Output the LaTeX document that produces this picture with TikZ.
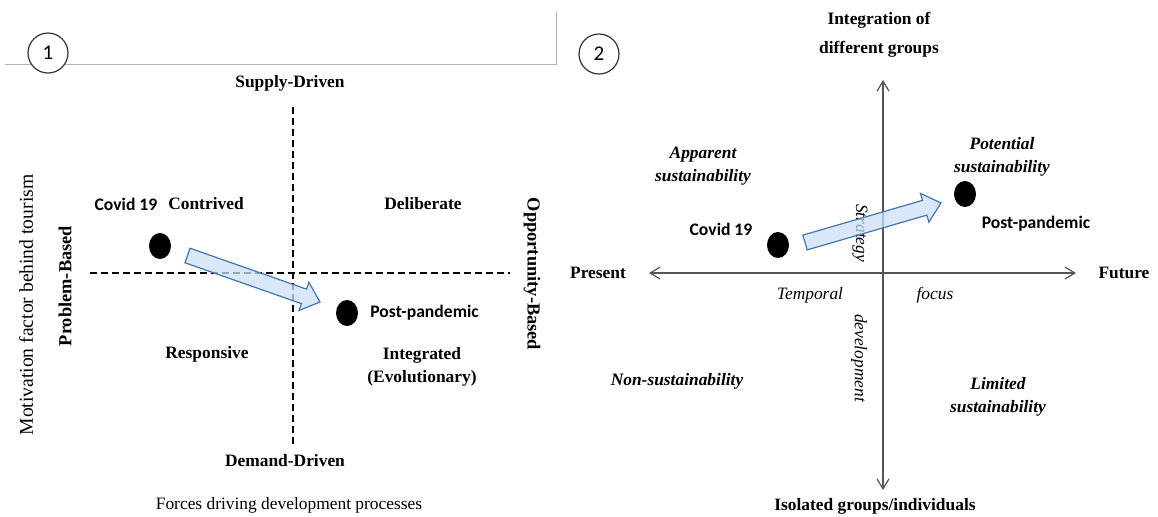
\documentclass[tikz,border=0pt]{standalone}
\usepackage{fontspec}
\setmainfont{Liberation Serif}
\newfontfamily\calfont{Carlito}
\usetikzlibrary{calc,arrows.meta,shapes.geometric}
\definecolor{arrfill}{RGB}{204,224,245}
\definecolor{arrdraw}{RGB}{70,115,175}
\definecolor{axisgray}{RGB}{85,85,85}
\newcommand\blockarr[2]{%
  \coordinate (#1h) at ($(#2)!8.5pt!(#1)$);
  \draw[blockarrow] ($(#1)!3.85pt!90:(#2)$) -- ($(#1h)!3.85pt!90:(#2)$) -- ($(#1h)!7.5pt!90:(#2)$) -- (#2)
    -- ($(#1h)!7.5pt!-90:(#2)$) -- ($(#1h)!3.85pt!-90:(#2)$) -- ($(#1)!3.85pt!-90:(#2)$) -- cycle;}
\begin{document}
\begin{tikzpicture}[x=0.5pt,y=-0.5pt,
  lbl/.style={font=\fontsize{8.7}{11.5}\selectfont\bfseries, inner sep=0pt, align=center},
  bilbl/.style={font=\fontsize{8.7}{11.5}\selectfont\bfseries\itshape, inner sep=0pt, align=center},
  itlbl/.style={font=\fontsize{8.7}{11.5}\selectfont\itshape, inner sep=0pt, align=center},
  rmlbl/.style={font=\fontsize{8.7}{11.5}\selectfont, inner sep=0pt, align=center},
  sidelbl/.style={font=\fontsize{9.2}{11}\selectfont\bfseries, inner sep=0pt},
  sanslbl/.style={font=\calfont\fontsize{8.8}{11}\selectfont\bfseries, inner sep=0pt},
  numcirc/.style={circle, draw=black!80, line width=0.6pt, fill=white, minimum size=20pt, inner sep=0pt,
    font=\calfont\fontsize{10.5}{12}\selectfont},
  dot/.style={ellipse, fill=black, minimum width=11pt, minimum height=13pt, inner sep=0pt},
  dashline/.style={line width=0.95pt, dash pattern=on 3.5pt off 2pt},
  axisline/.style={draw=axisgray, line width=0.6pt, {Straight Barb[length=5pt,width=6pt]}-{Straight Barb[length=5pt,width=6pt]}},
  blockarrow/.style={draw=arrdraw, line width=0.6pt, fill=arrfill, fill opacity=0.75, line join=miter}
]
\useasboundingbox (0,0) rectangle (1158,516);

% frame line
\coordinate (fl) at (5,64);
\coordinate (fc) at (556,64);
\coordinate (ft) at (556,12);
\draw[black!30, line width=0.5pt] (fl) -- (fc) -- (ft);

% ---------- Panel 1 ----------
\node[numcirc] (n1) at (48,53) {1};
\coordinate (vt) at (293,107);
\coordinate (vb) at (293,446);
\coordinate (hl) at (90,273);
\coordinate (hr) at (510,273);
\draw[dashline] (vt) -- (vb);
\draw[dashline] (hl) -- (hr);

\node[lbl] (sd) at (290,83) {Supply-Driven};
\node[lbl] (dd) at (285,461) {Demand-Driven};
\node[rmlbl] (fo) at (289,505) {Forces driving development processes};
\node[sidelbl, rotate=90] (pb) at (65,286) {Problem-Based};
\node[sidelbl, rotate=-90] (ob) at (532,274) {Opportunity-Based};
\node[font=\fontsize{9.8}{11}\selectfont, inner sep=0pt, rotate=90] (mf) at (26,305) {Motivation factor behind tourism};

\node[sanslbl] (cv1) at (126,204) {Covid 19};
\node[lbl] (con) at (206,204) {Contrived};
\node[lbl] (del) at (423,204) {Deliberate};
\node[lbl] (res) at (207,354) {Responsive};
\node[lbl] (int) at (422,367) {Integrated\\(Evolutionary)};

\node[dot] (d1) at (160,246) {};
\node[dot] (d2) at (347,313) {};
\node[sanslbl, anchor=west] (pp1) at (370,313) {Post-pandemic};

\coordinate (a1) at (187.5,255.5);
\coordinate (b1) at (320,302);
\blockarr{a1}{b1}

% ---------- Panel 2 ----------
\node[numcirc] (n2) at (599,54) {2};
\coordinate (yt) at (883,80);
\coordinate (yb) at (883,490);
\coordinate (xl) at (649,273);
\coordinate (xr) at (1076,273);
\draw[axisline] (yb) -- (yt);
\draw[axisline] (xl) -- (xr);

\node[font=\fontsize{8.7}{14.5}\selectfont\bfseries, inner sep=0pt, align=center] (ig) at (879,35) {Integration of\\different groups};
\node[lbl] (iso) at (875,506) {Isolated groups/individuals};
\node[lbl] (pre) at (598,273) {Present};
\node[lbl] (fut) at (1124,273) {Future};

\node[bilbl] (app) at (703,166) {Apparent\\sustainability};
\node[bilbl] (pot) at (1002,157) {Potential\\sustainability};
\node[bilbl] (non) at (677,381) {Non-sustainability};
\node[bilbl] (lim) at (998,397) {Limited\\sustainability};

\node[itlbl] (tem) at (810,295) {Temporal};
\node[itlbl] (foc) at (935,295) {focus};
\node[itlbl, rotate=-90] (str) at (860,233) {Strategy};
\node[itlbl, rotate=-90] (dev) at (859,358) {development};

\node[dot] (d3) at (778,245) {};
\node[dot] (d4) at (965,194) {};
\node[sanslbl] (cv2) at (721,229) {Covid 19};
\node[sanslbl] (pp2) at (1036,224) {Post-pandemic};

\coordinate (a2) at (805,242.5);
\coordinate (b2) at (941,203);
\blockarr{a2}{b2}
\end{tikzpicture}
\end{document}
